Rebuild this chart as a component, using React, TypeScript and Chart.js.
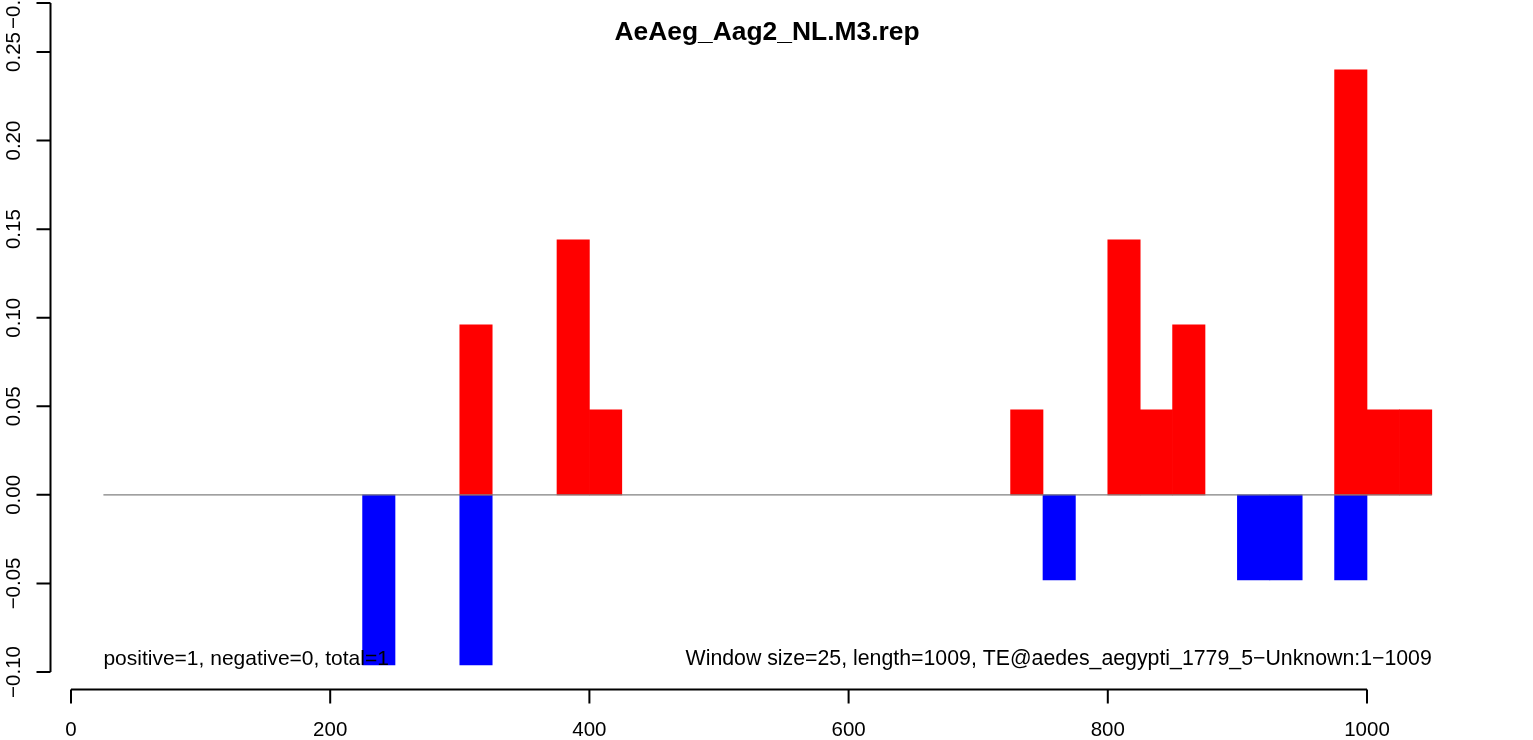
import React, { useEffect, useRef } from "react";
import { Chart, registerables } from "chart.js";

Chart.register(...registerables);

const TITLE = "AeAeg_Aag2_NL.M3.rep";
const WINDOW = 25;
const LINE_RANGE = [25, 1050];
const POS_STARTS = [300, 375, 400, 725, 800, 825, 850, 975, 1000, 1025];
const POS_VALUES = [0.096, 0.144, 0.048, 0.048, 0.144, 0.048, 0.096, 0.24, 0.048, 0.048];
const NEG_STARTS = [225, 300, 750, 900, 925, 975];
const NEG_VALUES = [-0.096, -0.096, -0.048, -0.048, -0.048, -0.048];
const X_TICKS = [0, 200, 400, 600, 800, 1000];
const Y_TICKS = [-0.1, -0.05, 0, 0.05, 0.1, 0.15, 0.2, 0.25];
const Y_TOP = 0.27766;
const Y_TOP_LABEL = "\u22120.10";
const LEFT_NOTE = "positive=1, negative=0, total=1";
const RIGHT_NOTE = "Window size=25, length=1009, TE@aedes_aegypti_1779_5\u2212Unknown:1\u22121009";
const NOTE_Y = -0.0926;

const FONT = '"Liberation Sans", Arial, Helvetica, sans-serif';

const fmt = (v: number) => {
  const s = Math.abs(v).toFixed(2);
  return (v < -1e-9 ? "\u2212" : "") + s;
};

const rAxes = {
  id: "rAxes",
  afterDraw(chart: any) {
    const { ctx, scales } = chart;
    const xs = scales.x;
    const ys = scales.y;
    ctx.save();
    ctx.strokeStyle = "#000";
    ctx.fillStyle = "#000";
    ctx.lineWidth = 2;
    // x axis
    const axY = 689.5;
    ctx.beginPath();
    ctx.moveTo(xs.getPixelForValue(X_TICKS[0]), axY);
    ctx.lineTo(xs.getPixelForValue(X_TICKS[X_TICKS.length - 1]), axY);
    for (const t of X_TICKS) {
      const px = xs.getPixelForValue(t);
      ctx.moveTo(px, axY);
      ctx.lineTo(px, axY + 14);
    }
    ctx.stroke();
    ctx.font = `20.5px ${FONT}`;
    ctx.textAlign = "center";
    ctx.textBaseline = "alphabetic";
    for (const t of X_TICKS) {
      ctx.fillText(String(t), xs.getPixelForValue(t), 736);
    }
    // y axis
    const axX = 50.5;
    ctx.beginPath();
    ctx.moveTo(axX, ys.getPixelForValue(Y_TICKS[0]));
    ctx.lineTo(axX, ys.getPixelForValue(Y_TOP));
    for (const t of [...Y_TICKS, Y_TOP]) {
      const py = ys.getPixelForValue(t);
      ctx.moveTo(axX, py);
      ctx.lineTo(axX - 14, py);
    }
    ctx.stroke();
    const labels: [number, string][] = Y_TICKS.map((t) => [t, fmt(t)]);
    labels.push([Y_TOP, Y_TOP_LABEL]);
    for (const [t, s] of labels) {
      const py = ys.getPixelForValue(t);
      ctx.save();
      ctx.translate(20, py);
      ctx.rotate(-Math.PI / 2);
      ctx.textAlign = "center";
      ctx.fillText(s, 0, 0);
      ctx.restore();
    }
    // title
    ctx.font = `bold 26.4px ${FONT}`;
    ctx.textAlign = "center";
    ctx.fillText(TITLE, 767, 39.5);
    // notes
    const ny = ys.getPixelForValue(NOTE_Y);
    ctx.textBaseline = "middle";
    ctx.font = `21px ${FONT}`;
    ctx.textAlign = "left";
    ctx.fillText(LEFT_NOTE, xs.getPixelForValue(LINE_RANGE[0]), ny);
    ctx.font = `21.3px ${FONT}`;
    ctx.textAlign = "right";
    ctx.fillText(RIGHT_NOTE, xs.getPixelForValue(LINE_RANGE[1]), ny);
    ctx.restore();
  },
};

export default function App() {
  const ref = useRef<HTMLCanvasElement | null>(null);
  useEffect(() => {
    document.body.style.margin = "0";
    const canvas = ref.current!;
    const chart = new Chart(canvas, {
      type: "bar",
      data: {
        datasets: [
          {
            type: "line",
            data: LINE_RANGE.map((x) => ({ x, y: 0 })),
            borderColor: "#808080",
            borderWidth: 1.3,
            pointRadius: 0,
            order: 0,
          } as any,
          {
            data: POS_STARTS.map((s, i) => ({ x: s + WINDOW / 2, y: POS_VALUES[i] })),
            backgroundColor: "#ff0000",
            borderWidth: 0,
            categoryPercentage: 1,
            barPercentage: 1,
            order: 1,
          },
          {
            data: NEG_STARTS.map((s, i) => ({ x: s + WINDOW / 2, y: NEG_VALUES[i] })),
            backgroundColor: "#0000ff",
            borderWidth: 0,
            categoryPercentage: 1,
            barPercentage: 1,
            order: 1,
          },
        ],
      },
      options: {
        animation: false,
        responsive: false,
        devicePixelRatio: 1,
        layout: { padding: { left: 71, right: 36.4, top: 3, bottom: 68 } },
        plugins: { legend: { display: false }, tooltip: { enabled: false }, title: { display: false } },
        scales: {
          x: { type: "linear", min: 0, max: 1100, offset: false, stacked: true, display: false, ticks: { stepSize: 100 } },
          y: { type: "linear", min: -0.1, max: Y_TOP, stacked: true, display: false },
        },
      },
      plugins: [rAxes],
    });
    return () => chart.destroy();
  }, []);
  return (
    <div style={{ position: "absolute", left: 0, top: 0, width: 1533, height: 740, background: "#fff" }}>
      <canvas ref={ref} width={1533} height={740} />
    </div>
  );
}
